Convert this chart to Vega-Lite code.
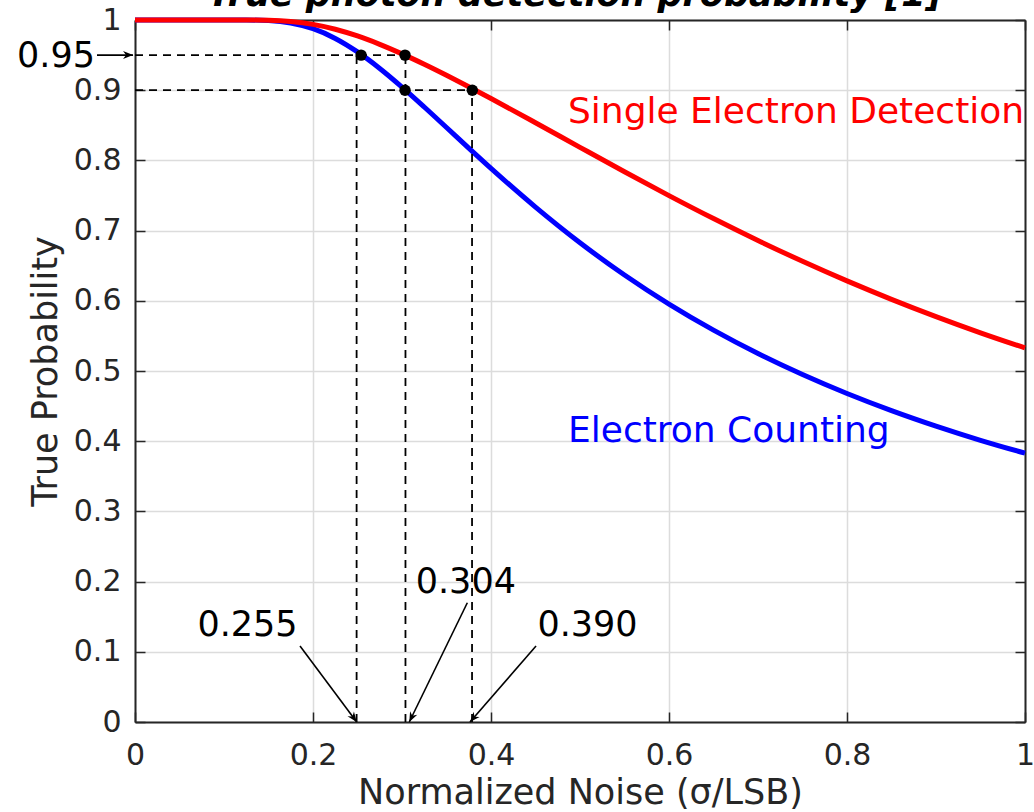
{
  "$schema": "https://vega.github.io/schema/vega-lite/v6.json",
  "width": 890,
  "height": 702,
  "autosize": "none",
  "padding": {"left": 135, "top": 20, "right": 9, "bottom": 90},
  "background": "white",
  "config": {"view": {"stroke": null}, "font": "DejaVu Sans"},
  "resolve": {"axis": {"x": "independent", "y": "independent"}},
  "datasets": {
    "curves": [
      {"x": 0, "p": 1, "series": "Electron Counting"},
      {"x": 0.05, "p": 1, "series": "Electron Counting"},
      {"x": 0.1, "p": 1, "series": "Electron Counting"},
      {"x": 0.125, "p": 0.99994, "series": "Electron Counting"},
      {"x": 0.15, "p": 0.99914, "series": "Electron Counting"},
      {"x": 0.175, "p": 0.99572, "series": "Electron Counting"},
      {"x": 0.2, "p": 0.98758, "series": "Electron Counting"},
      {"x": 0.225, "p": 0.97374, "series": "Electron Counting"},
      {"x": 0.25, "p": 0.9545, "series": "Electron Counting"},
      {"x": 0.275, "p": 0.93096, "series": "Electron Counting"},
      {"x": 0.3, "p": 0.90442, "series": "Electron Counting"},
      {"x": 0.325, "p": 0.87608, "series": "Electron Counting"},
      {"x": 0.35, "p": 0.84688, "series": "Electron Counting"},
      {"x": 0.375, "p": 0.81758, "series": "Electron Counting"},
      {"x": 0.4, "p": 0.7887, "series": "Electron Counting"},
      {"x": 0.45, "p": 0.73348, "series": "Electron Counting"},
      {"x": 0.5, "p": 0.68269, "series": "Electron Counting"},
      {"x": 0.55, "p": 0.6367, "series": "Electron Counting"},
      {"x": 0.6, "p": 0.59534, "series": "Electron Counting"},
      {"x": 0.65, "p": 0.55822, "series": "Electron Counting"},
      {"x": 0.7, "p": 0.52496, "series": "Electron Counting"},
      {"x": 0.75, "p": 0.49502, "series": "Electron Counting"},
      {"x": 0.8, "p": 0.46802, "series": "Electron Counting"},
      {"x": 0.85, "p": 0.44362, "series": "Electron Counting"},
      {"x": 0.9, "p": 0.4215, "series": "Electron Counting"},
      {"x": 0.95, "p": 0.40132, "series": "Electron Counting"},
      {"x": 1, "p": 0.38292, "series": "Electron Counting"},
      {"x": 0, "p": 1, "series": "Single Electron Detection"},
      {"x": 0.05, "p": 1, "series": "Single Electron Detection"},
      {"x": 0.1, "p": 1, "series": "Single Electron Detection"},
      {"x": 0.125, "p": 0.99997, "series": "Single Electron Detection"},
      {"x": 0.15, "p": 0.99957, "series": "Single Electron Detection"},
      {"x": 0.175, "p": 0.99786, "series": "Single Electron Detection"},
      {"x": 0.2, "p": 0.99379, "series": "Single Electron Detection"},
      {"x": 0.225, "p": 0.98687, "series": "Single Electron Detection"},
      {"x": 0.25, "p": 0.97722, "series": "Single Electron Detection"},
      {"x": 0.275, "p": 0.96534, "series": "Single Electron Detection"},
      {"x": 0.3, "p": 0.95178, "series": "Single Electron Detection"},
      {"x": 0.325, "p": 0.937, "series": "Single Electron Detection"},
      {"x": 0.35, "p": 0.9213, "series": "Single Electron Detection"},
      {"x": 0.375, "p": 0.90496, "series": "Single Electron Detection"},
      {"x": 0.4, "p": 0.88814, "series": "Single Electron Detection"},
      {"x": 0.45, "p": 0.85361, "series": "Single Electron Detection"},
      {"x": 0.5, "p": 0.81859, "series": "Single Electron Detection"},
      {"x": 0.55, "p": 0.78383, "series": "Single Electron Detection"},
      {"x": 0.6, "p": 0.74988, "series": "Single Electron Detection"},
      {"x": 0.65, "p": 0.71715, "series": "Single Electron Detection"},
      {"x": 0.7, "p": 0.68592, "series": "Single Electron Detection"},
      {"x": 0.75, "p": 0.6563, "series": "Single Electron Detection"},
      {"x": 0.8, "p": 0.62836, "series": "Single Electron Detection"},
      {"x": 0.85, "p": 0.60211, "series": "Single Electron Detection"},
      {"x": 0.9, "p": 0.57749, "series": "Single Electron Detection"},
      {"x": 0.95, "p": 0.5544, "series": "Single Electron Detection"},
      {"x": 1, "p": 0.5328, "series": "Single Electron Detection"}
    ],
    "dashes": [
      {"x": 0, "y": 0.95, "x2": 0.3034, "y2": 0.95},
      {"x": 0, "y": 0.9, "x2": 0.379, "y2": 0.9},
      {"x": 0.249, "y": 0, "x2": 0.249, "y2": 0.95},
      {"x": 0.3039, "y": 0, "x2": 0.3039, "y2": 0.95},
      {"x": 0.3787, "y": 0, "x2": 0.3787, "y2": 0.9}
    ],
    "dots": [
      {"x": 0.254, "y": 0.95},
      {"x": 0.3034, "y": 0.95},
      {"x": 0.3034, "y": 0.9},
      {"x": 0.379, "y": 0.9}
    ],
    "arrows": [
      {"name": "a1", "x": 0.1854, "y": 0.1083, "x2": 0.2491, "y2": 0},
      {"name": "a2", "x": 0.3734, "y": 0.1699, "x2": 0.3082, "y2": 0},
      {"name": "a3", "x": 0.4506, "y": 0.1083, "x2": 0.3764, "y2": 0},
      {"name": "a4", "x": -0.0427, "y": 0.95, "x2": -0.0022, "y2": 0.95}
    ],
    "notes": [
      {"x": 0.1264, "y": 0.1225, "text": "0.255"},
      {"x": 0.3717, "y": 0.1833, "text": "0.304"},
      {"x": 0.5084, "y": 0.1225, "text": "0.390"}
    ],
    "left95": [
      {"x": -0.0449, "y": 0.9325, "text": "0.95"}
    ],
    "serieslabels": [
      {"x": 0.4865, "y": 0.853, "series": "Single Electron Detection"},
      {"x": 0.4865, "y": 0.399, "series": "Electron Counting"}
    ],
    "title": [
      {"x": 0.494, "y": 1.0199, "text": "True photon detection probability [1]"}
    ]
  },
  "layer": [
    {
      "data": {"name": "curves"},
      "mark": {"type": "line", "strokeWidth": 5, "interpolate": "monotone"},
      "encoding": {
        "x": {
          "field": "x", "type": "quantitative",
          "scale": {"domain": [0, 1], "nice": false, "zero": false},
          "axis": {
            "orient": "bottom", "values": [0, 0.2, 0.4, 0.6, 0.8, 1], "format": "~g",
            "labelFlush": false, "labelFontSize": 30, "labelColor": "#262626", "labelFont": "DejaVu Sans",
            "labelPadding": 28, "tickSize": -10, "tickColor": "#262626", "tickWidth": 1.5,
            "domainColor": "#262626", "domainWidth": 2,
            "grid": true, "gridColor": "#dcdcdc", "gridWidth": 1.5,
            "title": "Normalized Noise (σ/LSB)", "titleFontSize": 35, "titleFontWeight": "normal",
            "titleColor": "#262626", "titleFont": "DejaVu Sans", "titlePadding": 5
          }
        },
        "y": {
          "field": "p", "type": "quantitative",
          "scale": {"domain": [0, 1], "nice": false, "zero": false},
          "axis": {
            "orient": "left", "values": [0, 0.1, 0.2, 0.3, 0.4, 0.5, 0.6, 0.7, 0.8, 0.9, 1], "format": "~g",
            "labelFontSize": 30, "labelColor": "#262626", "labelFont": "DejaVu Sans",
            "labelPadding": 24, "tickSize": -10, "tickColor": "#262626", "tickWidth": 1.5,
            "domainColor": "#262626", "domainWidth": 2,
            "grid": true, "gridColor": "#dcdcdc", "gridWidth": 1.5,
            "title": "True Probability", "titleFontSize": 35, "titleFontWeight": "normal",
            "titleColor": "#262626", "titleFont": "DejaVu Sans", "titlePadding": 10
          }
        },
        "color": {
          "field": "series", "type": "nominal",
          "scale": {"domain": ["Electron Counting", "Single Electron Detection"], "range": ["#0000ff", "#ff0000"]},
          "legend": null
        }
      }
    },
    {
      "data": {"name": "dashes"},
      "mark": {"type": "rule", "color": "black", "strokeWidth": 1.8, "strokeDash": [8, 6]},
      "encoding": {
        "x": {"field": "x", "type": "quantitative", "axis": null},
        "y": {"field": "y", "type": "quantitative", "axis": null},
        "x2": {"field": "x2"},
        "y2": {"field": "y2"}
      }
    },
    {
      "data": {"name": "arrows"},
      "mark": {"type": "rule", "color": "black", "strokeWidth": 1.6},
      "encoding": {
        "x": {"field": "x", "type": "quantitative", "axis": null},
        "y": {"field": "y", "type": "quantitative", "axis": null},
        "x2": {"field": "x2"},
        "y2": {"field": "y2"}
      }
    },
    {
      "data": {"name": "arrows"},
      "transform": [{"filter": "datum.name == 'a1'"}],
      "mark": {"type": "point", "shape": "M0,0 L-0.4,1 L0,0.7 L0.4,1 Z", "size": 400, "filled": true, "color": "black", "opacity": 1, "angle": 143.3},
      "encoding": {
        "x": {"field": "x2", "type": "quantitative", "axis": null},
        "y": {"field": "y2", "type": "quantitative", "axis": null}
      }
    },
    {
      "data": {"name": "arrows"},
      "transform": [{"filter": "datum.name == 'a2'"}],
      "mark": {"type": "point", "shape": "M0,0 L-0.4,1 L0,0.7 L0.4,1 Z", "size": 400, "filled": true, "color": "black", "opacity": 1, "angle": 205.9},
      "encoding": {
        "x": {"field": "x2", "type": "quantitative", "axis": null},
        "y": {"field": "y2", "type": "quantitative", "axis": null}
      }
    },
    {
      "data": {"name": "arrows"},
      "transform": [{"filter": "datum.name == 'a3'"}],
      "mark": {"type": "point", "shape": "M0,0 L-0.4,1 L0,0.7 L0.4,1 Z", "size": 400, "filled": true, "color": "black", "opacity": 1, "angle": 221},
      "encoding": {
        "x": {"field": "x2", "type": "quantitative", "axis": null},
        "y": {"field": "y2", "type": "quantitative", "axis": null}
      }
    },
    {
      "data": {"name": "arrows"},
      "transform": [{"filter": "datum.name == 'a4'"}],
      "mark": {"type": "point", "shape": "M0,0 L-0.4,1 L0,0.7 L0.4,1 Z", "size": 400, "filled": true, "color": "black", "opacity": 1, "angle": 90},
      "encoding": {
        "x": {"field": "x2", "type": "quantitative", "axis": null},
        "y": {"field": "y2", "type": "quantitative", "axis": null}
      }
    },
    {
      "data": {"name": "dots"},
      "mark": {"type": "point", "shape": "circle", "size": 130, "filled": true, "color": "black", "opacity": 1},
      "encoding": {
        "x": {
          "field": "x", "type": "quantitative",
          "axis": {
            "orient": "top", "values": [0, 0.2, 0.4, 0.6, 0.8, 1], "labels": false, "grid": false, "title": null,
            "tickSize": -10, "tickColor": "#262626", "tickWidth": 1.5, "domainColor": "#262626", "domainWidth": 2
          }
        },
        "y": {
          "field": "y", "type": "quantitative",
          "axis": {
            "orient": "right", "values": [0, 0.1, 0.2, 0.3, 0.4, 0.5, 0.6, 0.7, 0.8, 0.9, 1], "labels": false, "grid": false, "title": null,
            "tickSize": -10, "tickColor": "#262626", "tickWidth": 1.5, "domainColor": "#262626", "domainWidth": 2
          }
        }
      }
    },
    {
      "data": {"name": "notes"},
      "mark": {"type": "text", "fontSize": 35, "font": "DejaVu Sans", "color": "black", "align": "center", "baseline": "alphabetic"},
      "encoding": {
        "x": {"field": "x", "type": "quantitative", "axis": null},
        "y": {"field": "y", "type": "quantitative", "axis": null},
        "text": {"field": "text"}
      }
    },
    {
      "data": {"name": "left95"},
      "mark": {"type": "text", "fontSize": 35, "font": "DejaVu Sans", "color": "black", "align": "right", "baseline": "alphabetic"},
      "encoding": {
        "x": {"field": "x", "type": "quantitative", "axis": null},
        "y": {"field": "y", "type": "quantitative", "axis": null},
        "text": {"field": "text"}
      }
    },
    {
      "data": {"name": "serieslabels"},
      "mark": {"type": "text", "fontSize": 36, "font": "DejaVu Sans", "align": "left", "baseline": "alphabetic"},
      "encoding": {
        "x": {"field": "x", "type": "quantitative", "axis": null},
        "y": {"field": "y", "type": "quantitative", "axis": null},
        "text": {"field": "series"},
        "color": {"field": "series", "type": "nominal", "legend": null}
      }
    },
    {
      "data": {"name": "title"},
      "mark": {"type": "text", "fontSize": 35, "font": "DejaVu Sans", "fontWeight": "bold", "fontStyle": "italic", "color": "black", "align": "center", "baseline": "alphabetic"},
      "encoding": {
        "x": {"field": "x", "type": "quantitative", "axis": null},
        "y": {"field": "y", "type": "quantitative", "axis": null},
        "text": {"field": "text"}
      }
    }
  ]
}
